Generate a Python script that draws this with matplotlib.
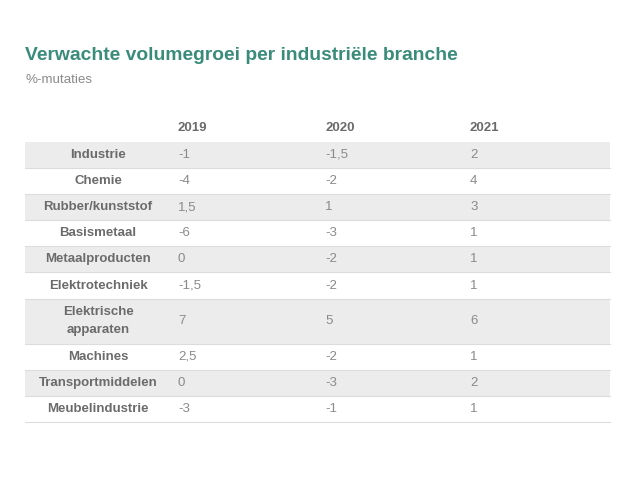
import matplotlib.pyplot as plt
from matplotlib.patches import Rectangle

plt.rcParams['font.family'] = ['Liberation Sans', 'DejaVu Sans']

title = "Verwachte volumegroei per industriële branche"
subtitle = "%-mutaties"
years = ["2019", "2020", "2021"]
branches = ["Industrie", "Chemie", "Rubber/kunststof", "Basismetaal",
            "Metaalproducten", "Elektrotechniek", "Elektrische\napparaten",
            "Machines", "Transportmiddelen", "Meubelindustrie"]
v2019 = ["-1", "-4", "1,5", "-6", "0", "-1,5", "7", "2,5", "0", "-3"]
v2020 = ["-1,5", "-2", "1", "-3", "-2", "-2", "5", "-2", "-3", "-1"]
v2021 = ["2", "4", "3", "1", "1", "1", "6", "1", "2", "1"]

TEAL = '#3a8c7a'
LABEL_GREY = '#6b6b6b'
VALUE_GREY = '#8a8a8a'
ROW_GREY = '#ececec'
LINE_GREY = '#dcdcdc'

fig = plt.figure(figsize=(6.4, 4.8), dpi=100)
ax = fig.add_axes([0, 0, 1, 1])
ax.set_xlim(0, 640)
ax.set_ylim(480, 0)
ax.axis('off')

ax.text(25, 55, title, color=TEAL, fontsize=13.9, fontweight='bold', va='center')
ax.text(25, 80, subtitle, color=VALUE_GREY, fontsize=9.6, va='center')

left, right = 25, 610
label_x = 98
col_x = [178, 325, 470]

for x, y in zip(col_x, years):
    ax.text(x, 128, y, color=LABEL_GREY, fontsize=9.5, fontweight='bold', va='center')

top = 141.5
for i, name in enumerate(branches):
    h = 45 if "\n" in name else 26.2
    if i % 2 == 0:
        ax.add_patch(Rectangle((left, top), right - left, h, color=ROW_GREY, lw=0))
    ax.plot([left, right], [top + h, top + h], color=LINE_GREY, lw=0.8)
    yc = top + h / 2
    ax.text(label_x, yc, name, color=LABEL_GREY, fontsize=9.5, fontweight='bold',
            ha='center', va='center', linespacing=1.65)
    for x, vals in zip(col_x, [v2019, v2020, v2021]):
        ax.text(x, yc, vals[i], color=VALUE_GREY, fontsize=9.5, va='center')
    top += h

fig.savefig("out.png", dpi=100)
